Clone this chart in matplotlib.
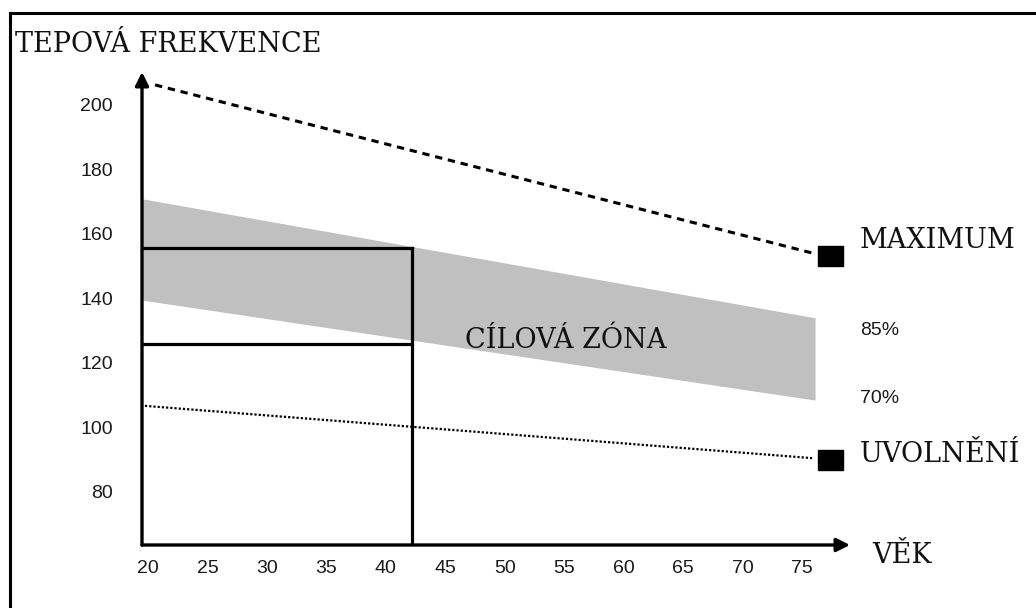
import matplotlib
matplotlib.use("Agg")
import matplotlib.pyplot as plt
from matplotlib.lines import Line2D

# ---- data ----
x_ticks = [20, 25, 30, 35, 40, 45, 50, 55, 60, 65, 70, 75]
y_ticks = [80, 100, 120, 140, 160, 180, 200]

max_age = [20.6, 75.85]
max_hr = [206.2, 154.1]

rest_age = [19.75, 75.85]
rest_hr = [106.7, 90.5]

band_age = [19.5, 76.1]
band_top = [170.9, 134.0]   # 85 %
band_bot = [139.5, 108.5]   # 70 %

box_age = [19.5, 42.2]
box_top = 155.7
box_bot = 125.9

marker_age = [77.36, 77.36]
marker_hr = [153.2, 89.9]

XLIM = (19.5, 79.04)
YLIM = (63.57, 210.2)

W, H = 1036, 608
fig = plt.figure(figsize=(W / 100, H / 100), dpi=100)
ax = fig.add_axes([142 / W, (H - 545) / H, (850 - 142) / W, (545 - 72) / H])
ax.set_xlim(*XLIM)
ax.set_ylim(*YLIM)
for s in ax.spines.values():
    s.set_visible(False)

SERIF = "DejaVu Serif"
SANS = "Liberation Sans"

# gray target zone
ax.fill_between(band_age, band_top, band_bot, color="#c0c0c0", lw=0, zorder=1)

# max line (dashed)
ax.plot(max_age, max_hr, color="black", lw=2.2, linestyle=(0, (2.4, 1.9)),
        zorder=3, dash_capstyle="butt")
# rest line (dotted)
ax.plot(rest_age, rest_hr, color="black", lw=1.6, linestyle=(0, (1, 0.9)),
        zorder=3)

# box
ax.plot(box_age, [box_top, box_top], color="black", lw=2.3, zorder=4)
ax.plot(box_age, [box_bot, box_bot], color="black", lw=2.3, zorder=4)
ax.plot([box_age[1], box_age[1]], [YLIM[0], box_top], color="black", lw=2.3,
        zorder=4)

# markers
rect = [(-1.3, -1), (1.3, -1), (1.3, 1), (-1.3, 1), (-1.3, -1)]
ax.plot(marker_age, marker_hr, linestyle="none", marker=rect, markersize=18,
        color="black", clip_on=False, zorder=5)

# axes arrows
ap = dict(arrowstyle="-|>", lw=2.4, color="black", mutation_scale=20,
          shrinkA=0, shrinkB=0)
ax.annotate("", xy=(0, 1), xytext=(0, 0), xycoords="axes fraction",
            textcoords="axes fraction", arrowprops=ap, zorder=6)
ax.annotate("", xy=(1, 0), xytext=(0, 0), xycoords="axes fraction",
            textcoords="axes fraction", arrowprops=ap, zorder=6)

# ticks
ax.set_xticks(x_ticks)
ax.set_xticklabels([str(v) for v in x_ticks])
ax.set_yticks(y_ticks)
ax.set_yticklabels([str(v) for v in y_ticks])
ax.tick_params(axis="x", length=0, pad=11, labelsize=14, labelcolor="#1a1a1a")
ax.tick_params(axis="y", length=0, pad=21, labelsize=14, labelcolor="#1a1a1a")
for lab in ax.get_xticklabels() + ax.get_yticklabels():
    lab.set_fontfamily(SANS)


def ftext(px, py, s, **kw):
    fig.text(px / W, 1 - py / H, s, va="baseline", ha="left", **kw)


FS = 19.5
ftext(15, 52, "TEPOVÁ FREKVENCE", fontsize=FS, family=SERIF, color="#111111")
ftext(465, 348, "CÍLOVÁ ZÓNA", fontsize=FS, family=SERIF, color="#111111")
ftext(860, 248, "MAXIMUM", fontsize=FS, family=SERIF, color="#111111")
ftext(860, 462, "UVOLNĚNÍ", fontsize=FS, family=SERIF, color="#111111")
ftext(872, 563, "VĚK", fontsize=FS, family=SERIF, color="#111111")
ftext(860, 335, "85%", fontsize=14, family=SANS, color="#1a1a1a")
ftext(860, 403, "70%", fontsize=14, family=SANS, color="#1a1a1a")

# frame (top and left edges of the picture box)
fig.add_artist(Line2D([10 / W, 1.0], [1 - 13 / H, 1 - 13 / H], color="black",
                      lw=2.2, transform=fig.transFigure))
fig.add_artist(Line2D([10 / W, 10 / W], [1 - 13 / H, 0.0], color="black",
                      lw=2.2, transform=fig.transFigure))

fig.savefig("out.png", dpi=100, facecolor="white")
